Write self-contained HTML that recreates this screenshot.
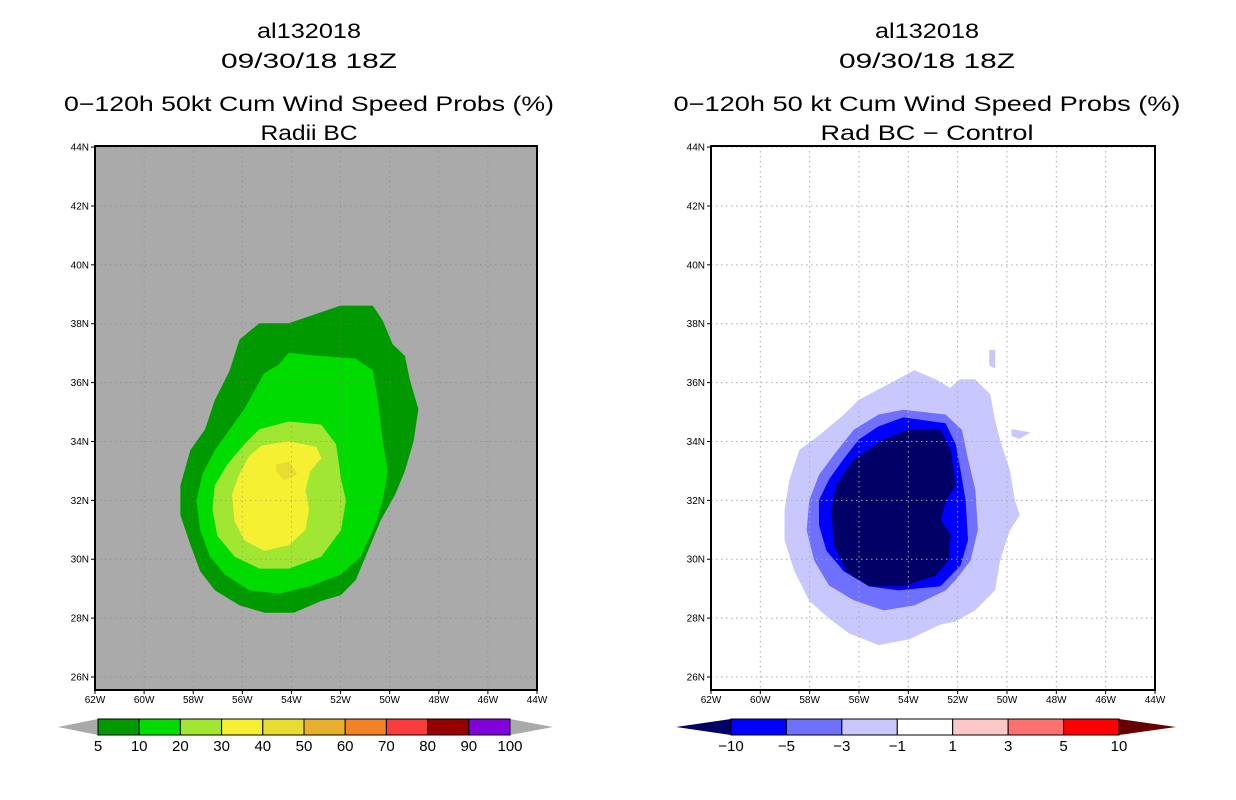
<!DOCTYPE html>
<html><head><meta charset="utf-8"><style>
html,body{margin:0;padding:0;background:#fff;}
svg{display:block;font-family:"Liberation Sans",sans-serif;}
</style></head><body>
<svg id="c" width="1236" height="800" xmlns="http://www.w3.org/2000/svg"></svg>
<script>
const latTicks=[26,28,30,32,34,36,38,40,42,44];
const lonTicks=[62,60,58,56,54,52,50,48,46,44];
// Left panel contours [lon,lat]
const left5=[[-54.1,38.0],[-52.0,38.6],[-50.7,38.6],[-50.3,38.1],[-49.9,37.3],[-49.4,36.9],[-49.2,36.1],[-48.85,35.1],[-49.05,34.0],[-49.4,33.0],[-49.8,32.2],[-50.4,31.3],[-50.8,30.5],[-51.4,29.3],[-52.0,28.8],[-52.8,28.6],[-53.9,28.2],[-55.1,28.2],[-56.1,28.45],[-57.1,28.96],[-57.7,29.6],[-58.1,30.5],[-58.5,31.5],[-58.5,32.5],[-58.1,33.7],[-57.5,34.4],[-57.1,35.4],[-56.5,36.4],[-56.1,37.45],[-55.3,38.0]];
const left10=[[-54.1,37.0],[-53.0,36.9],[-51.4,36.8],[-50.7,36.4],[-50.5,35.4],[-50.3,34.0],[-50.1,33.0],[-50.3,32.0],[-50.6,31.2],[-51.2,30.1],[-52.0,29.5],[-53.25,29.1],[-54.5,28.85],[-55.7,28.96],[-56.7,29.5],[-57.3,30.1],[-57.7,31.0],[-57.85,32.0],[-57.6,32.9],[-57.1,33.7],[-56.5,34.4],[-55.9,35.1],[-55.1,36.3],[-54.5,36.6]];
const left20=[[-55.3,34.4],[-54.1,34.66],[-52.8,34.56],[-52.2,33.9],[-52.0,32.7],[-51.8,32.0],[-52.0,31.0],[-52.8,30.1],[-54.1,29.7],[-55.3,29.7],[-56.3,30.1],[-57.0,30.8],[-57.2,31.7],[-57.1,32.5],[-56.6,33.2],[-55.9,33.9]];
const left30=[[-55.2,33.85],[-54.1,33.99],[-53.0,33.8],[-52.8,33.44],[-53.25,33.0],[-53.45,32.35],[-53.3,31.7],[-53.45,31.0],[-54.1,30.5],[-55.1,30.3],[-55.9,30.65],[-56.3,31.3],[-56.4,32.2],[-56.1,32.9],[-55.7,33.5]];
const left40=[[-54.6,33.2],[-54.1,33.3],[-53.8,32.9],[-54.3,32.7],[-54.6,33.0]];
// Right panel contours
const right1=[[-56.0,35.4],[-53.75,36.4],[-52.9,36.1],[-52.3,35.8],[-51.9,36.1],[-51.3,36.1],[-50.7,35.6],[-50.5,34.7],[-50.3,34.05],[-49.9,33.0],[-49.7,32.0],[-49.5,31.5],[-49.9,31.0],[-50.3,29.96],[-50.5,28.96],[-51.3,28.28],[-52.1,27.9],[-52.7,27.8],[-53.95,27.3],[-55.2,27.1],[-56.4,27.5],[-57.2,28.0],[-58.0,28.6],[-58.6,29.6],[-59.0,30.65],[-59.0,31.67],[-58.8,32.69],[-58.4,33.7],[-57.6,34.2],[-56.6,34.9]];
const right1b=[[-50.7,37.1],[-50.5,37.1],[-50.5,36.5],[-50.7,36.6]];
const right1c=[[-49.8,34.4],[-49.1,34.3],[-49.5,34.1],[-49.8,34.2]];
const right3=[[-55.2,34.9],[-54.2,35.06],[-52.5,34.9],[-51.85,34.39],[-51.6,33.4],[-51.3,32.35],[-51.2,31.0],[-51.5,29.96],[-52.1,29.3],[-52.5,28.96],[-53.75,28.45],[-55.0,28.28],[-56.2,28.62],[-57.2,29.12],[-57.8,29.96],[-58.1,30.99],[-58.0,32.0],[-57.6,32.86],[-57.0,33.54],[-56.2,34.39]];
const right5=[[-55.2,34.5],[-54.2,34.8],[-52.5,34.6],[-52.1,33.9],[-51.9,33.0],[-51.7,32.0],[-51.6,30.65],[-51.9,29.8],[-52.7,29.1],[-54.4,28.96],[-55.6,29.1],[-56.6,29.6],[-57.3,30.3],[-57.6,31.16],[-57.6,32.0],[-57.2,32.7],[-56.6,33.4],[-56.0,34.05]];
const right10=[[-55.0,34.05],[-53.95,34.4],[-52.7,34.4],[-52.3,33.7],[-52.1,32.5],[-52.5,32.0],[-52.7,31.33],[-52.3,30.82],[-52.4,29.96],[-52.9,29.46],[-54.2,29.1],[-55.6,29.1],[-56.5,29.6],[-57.0,30.5],[-57.1,31.67],[-56.9,32.52],[-56.2,33.37],[-55.6,33.7]];
const leftBarLabels=["5","10","20","30","40","50","60","70","80","90","100"];
const leftBarColors=["#009900","#00dc00","#a0e632","#f5f032","#e6dc32","#e6af2d","#f08228","#fa3c3c","#960000","#8200dc"];
const rightBarLabels=["\u221210","\u22125","\u22123","\u22121","1","3","5","10"];
const rightBarColors=["#0000ff","#7070ff","#c8c8ff","#ffffff","#ffc8c8","#ff7070","#ff0000"];

const NS="http://www.w3.org/2000/svg";
const svg=document.getElementById('c');
function mk(tag,attrs,parent){const e=document.createElementNS(NS,tag);for(const k in attrs)e.setAttribute(k,attrs[k]);(parent||svg).appendChild(e);return e;}
function mkPanel(x0,x1){const p={x0,x1,y0:146,y1:690};p.x=lon=>x0+(lon+62)/18*(x1-x0);p.y=lat=>677-(lat-26)*29.44;return p;}
const L=mkPanel(95,537), R=mkPanel(711,1155);
function poly(p,pts,fill,name){const e=mk('polygon',{points:pts.map(q=>p.x(q[0]).toFixed(1)+','+p.y(q[1]).toFixed(1)).join(' '),fill:fill,'stroke':fill,'stroke-width':1,'stroke-linejoin':'round'});

return e;}
function title(cx,lines,lens){lines.forEach((t,i)=>{const e=mk('text',{x:cx,y:[38,68,111,140][i],'text-anchor':'middle','font-size':21,fill:'#000',textLength:lens[i],lengthAdjust:'spacingAndGlyphs'});e.textContent=t;

});}
function axes(p,bg){
 const r=mk('rect',{x:p.x0,y:p.y0,width:p.x1-p.x0,height:p.y1-p.y0,fill:bg});
 
 
}
function frame(p,gridColor){
 const g=mk('g',{});
 
 
 latTicks.forEach(t=>{mk('line',{x1:p.x0,x2:p.x1,y1:p.y(t),y2:p.y(t),stroke:gridColor,'stroke-dasharray':'1.5,3.5','stroke-width':1},g);});
 lonTicks.forEach(t=>{mk('line',{x1:p.x(-t),x2:p.x(-t),y1:p.y0,y2:p.y1,stroke:gridColor,'stroke-dasharray':'1.5,3.5','stroke-width':1},g);});
 const f=mk('rect',{x:p.x0,y:p.y0,width:p.x1-p.x0,height:p.y1-p.y0,fill:'none',stroke:'#000','stroke-width':2});
 
 
 latTicks.forEach(t=>{mk('line',{x1:p.x0-4,x2:p.x0,y1:p.y(t),y2:p.y(t),stroke:'#000'});
  const e=mk('text',{x:p.x0-6,y:p.y(t)+3.5,'text-anchor':'end','font-size':10});e.textContent=t+'N';
  
  });
 lonTicks.forEach(t=>{mk('line',{x1:p.x(-t),x2:p.x(-t),y1:p.y1,y2:p.y1+4,stroke:'#000'});
  const e=mk('text',{x:p.x(-t),y:p.y1+13,'text-anchor':'middle','font-size':10});e.textContent=t+'W';
  
  });
}
function colorbar(bx0,bx1,tipL,tipR,colors,labels,leftCol,rightCol){
 const y0=719,y1=735,ym=727,n=colors.length,w=(bx1-bx0)/n;
 const g=mk('g',{});
 
 
 mk('polygon',{points:`${tipL},${ym} ${bx0},${y0} ${bx0},${y1}`,fill:leftCol},g);
 mk('polygon',{points:`${tipR},${ym} ${bx1},${y0} ${bx1},${y1}`,fill:rightCol},g);
 colors.forEach((c,i)=>{mk('rect',{x:bx0+i*w,y:y0,width:w,height:y1-y0,fill:c,stroke:'#000','stroke-width':1},g);});
 labels.forEach((t,i)=>{const e=mk('text',{x:bx0+i*w,y:751,'text-anchor':'middle','font-size':15},g);e.textContent=t;
  
  });
}
// Left
title(309,["al132018","09/30/18 18Z","0\u2212120h 50kt Cum Wind Speed Probs (%)","Radii BC"],[104,176,490,97]);
axes(L,'#aaaaaa');
poly(L,left5,'#009900','contour-5pct');
poly(L,left10,'#00dc00','contour-10pct');
poly(L,left20,'#a0e632','contour-20pct');
poly(L,left30,'#f5f032','contour-30pct');
poly(L,left40,'#e6dc32','contour-40pct');
frame(L,'rgba(120,120,120,0.45)');
colorbar(98,510,58,553,leftBarColors,leftBarLabels,'#aaaaaa','#aaaaaa');
// Right
title(927,["al132018","09/30/18 18Z","0\u2212120h 50 kt Cum Wind Speed Probs (%)","Rad BC \u2212 Control"],[104,176,507,213]);
axes(R,'#ffffff');
poly(R,right1,'#c8c8ff','diff-minus1');
poly(R,right1b,'#c8c8ff','diff-minus1-patch');
poly(R,right1c,'#c8c8ff','diff-minus1-patch');
poly(R,right3,'#7070ff','diff-minus3');
poly(R,right5,'#0000ff','diff-minus5');
poly(R,right10,'#000066','diff-minus10');
frame(R,'#aaaaaa');
colorbar(731,1119,676,1176,rightBarColors,rightBarLabels,'#000066','#660000');
</script>
</body></html>
